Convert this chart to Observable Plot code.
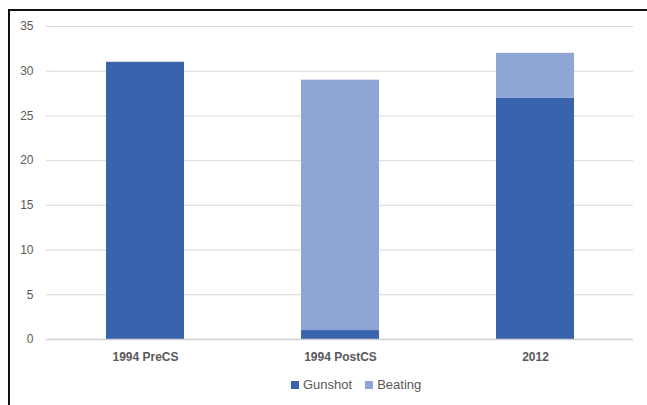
<!DOCTYPE html>
<html>
<head>
<meta charset="utf-8">
<script src="https://cdn.jsdelivr.net/npm/d3@7"></script>
<script src="https://cdn.jsdelivr.net/npm/@observablehq/plot@0.6"></script>
<style>
  html, body { margin: 0; padding: 0; background: #fff; }
  #wrap { position: relative; width: 647px; height: 405px; overflow: hidden; font-family: "Liberation Sans", "DejaVu Sans", sans-serif; }
  #frame { position: absolute; left: 8px; top: 9px; width: 700px; height: 420px; border-left: 2px solid #111; border-top: 2px solid #111; pointer-events: none; }
  #chart { position: absolute; left: 0; top: 0; }
  #legend { position: absolute; top: 377px; left: 291px; display: flex; align-items: center; font-size: 13px; color: #595959; }
  .sw { display: inline-block; width: 8px; height: 8px; margin-right: 4px; }
  .item { display: flex; align-items: center; margin-right: 13px; }
</style>
</head>
<body>
<div id="wrap">
  <div id="chart"></div>
  <div id="frame"></div>
  <div id="legend"></div>
</div>
<script>
const categories = ["1994 PreCS", "1994 PostCS", "2012"];
const seriesNames = ["Gunshot", "Beating"];
const gunshot = [31, 1, 27];
const beating = [0, 28, 5];
const colors = ["#3a63ad", "#8fa5d6"];
const yTicks = [0, 5, 10, 15, 20, 25, 30, 35];

const data = [];
categories.forEach((c, i) => {
  data.push({cat: c, type: "Gunshot", value: gunshot[i]});
  data.push({cat: c, type: "Beating", value: beating[i]});
});

const chart = Plot.plot({
  width: 647,
  height: 372,
  marginLeft: 46,
  marginRight: 14,
  marginTop: 26,
  marginBottom: 33,
  style: { fontFamily: "Liberation Sans, DejaVu Sans, sans-serif", fontSize: "12px", color: "#595959", background: "transparent" },
  x: { domain: categories, paddingInner: 0.6, paddingOuter: 0.3, label: null },
  y: { domain: [0, 35], ticks: yTicks, label: null },
  color: { domain: seriesNames, range: colors },
  marks: [
    Plot.gridY(yTicks, { stroke: "#d9d9d9", strokeOpacity: 1, strokeWidth: 1 }),
    Plot.barY(data, { x: "cat", y: "value", fill: "type", order: seriesNames }),
    Plot.ruleY([0], { stroke: "#d0d0d0", strokeWidth: 1.5 }),
    Plot.axisY({ ticks: yTicks, tickSize: 0, tickPadding: 13, fontSize: 12, fill: "#595959", label: null }),
    Plot.axisX({ tickSize: 0, tickPadding: 13, fontSize: 12, fontWeight: "bold", fill: "#595959", label: null })
  ]
});
document.getElementById("chart").appendChild(chart);

const legend = document.getElementById("legend");
seriesNames.forEach((s, i) => {
  const it = document.createElement("div");
  it.className = "item";
  const sw = document.createElement("span");
  sw.className = "sw";
  sw.style.background = colors[i];
  it.appendChild(sw);
  it.appendChild(document.createTextNode(s));
  legend.appendChild(it);
});
</script>
</body>
</html>
